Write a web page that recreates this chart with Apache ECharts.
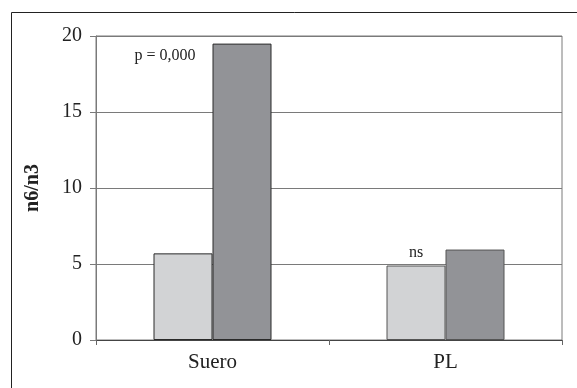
<!DOCTYPE html>
<html>
<head>
<meta charset="utf-8">
<script src="https://cdn.jsdelivr.net/npm/echarts@6/dist/echarts.min.js"></script>
<style>
html,body{margin:0;padding:0;background:#fff;}
#main{width:577px;height:388px;}
</style>
</head>
<body>
<div id="main"></div>
<script>
var categories = ['Suero', 'PL'];
var lightValues = [5.7, 4.9];
var darkValues = [19.5, 5.95];
var yTicks = [0, 5, 10, 15, 20];
var pAnnotation = { text: 'p = 0,000', category: 'Suero', y: 18.7 };
var nsAnnotation = 'ns';

var FONT = "'Liberation Serif', 'Times New Roman', serif";
var borderByCategory = ['#2a2a2a', '#555555'];

var chart = echarts.init(document.getElementById('main'), null, { renderer: 'canvas' });

function buildData(values, withNs) {
  return values.map(function (v, i) {
    var d = { value: v, itemStyle: { borderColor: borderByCategory[i] } };
    if (withNs && i === 1) {
      d.label = {
        show: true, position: 'top', distance: 5,
        formatter: nsAnnotation, fontFamily: FONT, fontSize: 16, color: '#222'
      };
    }
    return d;
  });
}

chart.setOption({
  animation: false,
  backgroundColor: '#fff',
  graphic: [{
    type: 'rect',
    shape: { x: 11.5, y: 12.5, width: 700, height: 500 },
    style: { fill: 'none', stroke: '#222', lineWidth: 1 },
    silent: true
  }],
  grid: {
    left: 96, right: 15, top: 36, bottom: 48,
    show: true, borderColor: '#7a7a7a', borderWidth: 1, backgroundColor: 'transparent'
  },
  xAxis: {
    type: 'category',
    data: categories,
    boundaryGap: true,
    axisLine: { lineStyle: { color: '#444', width: 1 } },
    axisTick: { show: true, alignWithLabel: false, length: 5, lineStyle: { color: '#666' } },
    axisLabel: { fontFamily: FONT, fontSize: 21, color: '#222', margin: 12 },
    splitLine: { show: false }
  },
  yAxis: {
    type: 'value',
    min: yTicks[0], max: yTicks[yTicks.length - 1], interval: 5,
    name: 'n6/n3',
    nameLocation: 'middle',
    nameRotate: 90,
    nameGap: 53,
    nameTextStyle: { fontFamily: FONT, fontSize: 20, fontWeight: 'bold', color: '#222' },
    axisLine: { show: true, lineStyle: { color: '#7a7a7a', width: 1 } },
    axisTick: { show: true, length: 6, lineStyle: { color: '#7a7a7a' } },
    axisLabel: { fontFamily: FONT, fontSize: 20, color: '#222', margin: 14 },
    splitLine: { show: true, lineStyle: { color: '#7a7a7a', width: 1 } }
  },
  series: [{
    type: 'bar',
    data: buildData(lightValues, true),
    barWidth: 59,
    barGap: '0%',
    itemStyle: { color: '#d2d3d5', borderWidth: 1 },
    markPoint: {
      symbol: 'circle', symbolSize: 0,
      label: { show: true, formatter: '{b}', fontFamily: FONT, fontSize: 16, color: '#222', offset: [-18, 0] },
      data: [{ name: pAnnotation.text, coord: [pAnnotation.category, pAnnotation.y] }]
    }
  }, {
    type: 'bar',
    data: buildData(darkValues, false),
    barWidth: 59,
    barGap: '0%',
    itemStyle: { color: '#929397', borderWidth: 1 }
  }]
});
</script>
</body>
</html>
